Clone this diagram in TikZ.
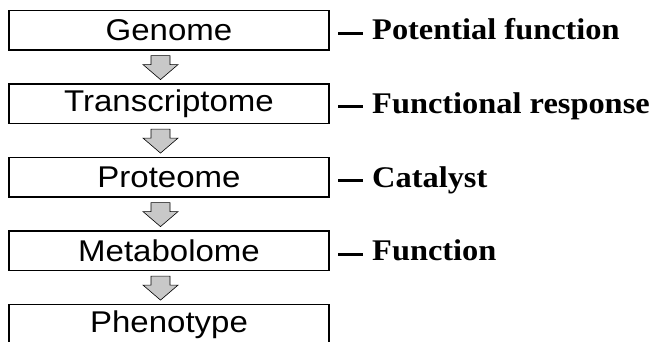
\documentclass[tikz,border=0pt]{standalone}
\usepackage{fontspec}
\usepackage{xcolor}
\usepackage{tikz}
\newfontfamily\boxfont[FakeStretch=1.1]{Liberation Sans}
\newfontfamily\labelfont[FakeStretch=1.08]{Liberation Serif}
\begin{document}
\begin{tikzpicture}[x=1pt,y=-1pt,line join=miter,
  omebox/.style={draw=black,line width=1.2pt,minimum width=320pt,minimum height=39.5pt,inner sep=0pt,font=\boxfont\fontsize{30}{32}\selectfont},
  rolelabel/.style={anchor=base west,inner sep=0pt,font=\labelfont\bfseries\fontsize{30}{32}\selectfont},
  blockarrow/.style={draw=black,line width=.6pt,fill=stipple}]
\definecolor{stipple}{HTML}{C8C8C8}
\useasboundingbox (0,0) rectangle (655,342);
\node[omebox] (genome) at (169,30.25) {Genome};
\node[omebox] (transcriptome) at (169,103.75) {Transcriptome};
\node[omebox] (proteome) at (169,177.25) {Proteome};
\node[omebox] (metabolome) at (169,250.75) {Metabolome};
\node[omebox] (phenotype) at (169,324.25) {Phenotype};
\begin{scope}[shift={(genome.south)}]
\draw[blockarrow] (-18,5) -- (1,5) -- (1,14) -- (9,14) -- (-8.5,29) -- (-26,14) -- (-18,14) -- cycle;
\end{scope}
\begin{scope}[shift={(transcriptome.south)}]
\draw[blockarrow] (-18,5) -- (1,5) -- (1,14) -- (9,14) -- (-8.5,29) -- (-26,14) -- (-18,14) -- cycle;
\end{scope}
\begin{scope}[shift={(proteome.south)}]
\draw[blockarrow] (-18,5) -- (1,5) -- (1,14) -- (9,14) -- (-8.5,29) -- (-26,14) -- (-18,14) -- cycle;
\end{scope}
\begin{scope}[shift={(metabolome.south)}]
\draw[blockarrow] (-18,5) -- (1,5) -- (1,14) -- (9,14) -- (-8.5,29) -- (-26,14) -- (-18,14) -- cycle;
\end{scope}
\node[rolelabel] (potential) at (338,40) {\rule[5pt]{25pt}{3pt}\hspace{9pt}Potential function};
\node[rolelabel] (response) at (338,113.5) {\rule[5pt]{25pt}{3pt}\hspace{9pt}Functional response};
\node[rolelabel] (catalyst) at (338,187) {\rule[5pt]{25pt}{3pt}\hspace{9pt}Catalyst};
\node[rolelabel] (function) at (338,260.5) {\rule[5pt]{25pt}{3pt}\hspace{9pt}Function};
\end{tikzpicture}
\end{document}
